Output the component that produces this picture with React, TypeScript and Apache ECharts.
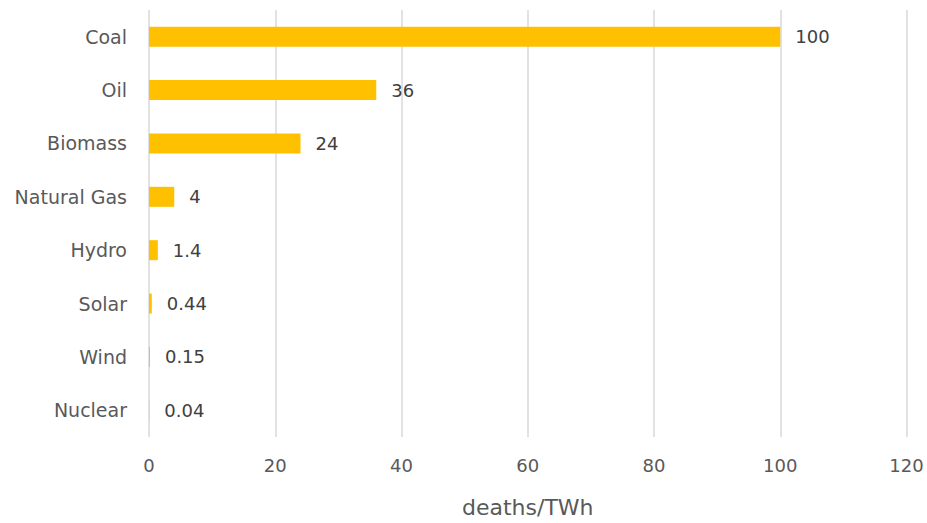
import React, { useEffect, useRef } from "react";
import * as echarts from "echarts";

const categories = ["Coal", "Oil", "Biomass", "Natural Gas", "Hydro", "Solar", "Wind", "Nuclear"];
const deathsPerTWh = [100, 36, 24, 4, 1.4, 0.44, 0.15, 0.04];
const axisMin = 0;
const axisMax = 120;
const axisStep = 20;

export default function App() {
  const ref = useRef<HTMLDivElement>(null);

  useEffect(() => {
    if (!ref.current) return;
    const chart = echarts.init(ref.current, null, { renderer: "svg" });
    const font = "'DejaVu Sans', sans-serif";
    chart.setOption({
      animation: false,
      grid: { left: 149, right: 20.5, top: 10, bottom: 85, containLabel: false },
      xAxis: {
        type: "value",
        min: axisMin,
        max: axisMax,
        interval: axisStep,
        name: "deaths/TWh",
        nameLocation: "middle",
        nameGap: 59,
        nameTextStyle: { color: "#595959", fontSize: 22, fontFamily: font },
        axisLine: { show: false },
        axisTick: { show: false },
        axisLabel: { color: "#595959", fontSize: 18, fontFamily: font, margin: 19 },
        splitLine: { show: true, lineStyle: { color: "#d9d9d9", width: 1.5 } },
      },
      yAxis: {
        type: "category",
        data: categories,
        inverse: true,
        axisLine: { show: false },
        axisTick: { show: false },
        axisLabel: { color: "#595959", fontSize: 19, fontFamily: font, margin: 22 },
      },
      series: [
        {
          type: "bar",
          data: deathsPerTWh,
          barWidth: 20,
          itemStyle: { color: "#FFC000" },
          label: {
            show: true,
            position: "right",
            distance: 15,
            color: "#404040",
            fontSize: 18,
            fontFamily: font,
          },
        },
      ],
    });
    return () => chart.dispose();
  }, []);

  return (
    <div
      ref={ref}
      style={{ position: "fixed", left: 0, top: 0, width: 927, height: 523, background: "#fff" }}
    />
  );
}
